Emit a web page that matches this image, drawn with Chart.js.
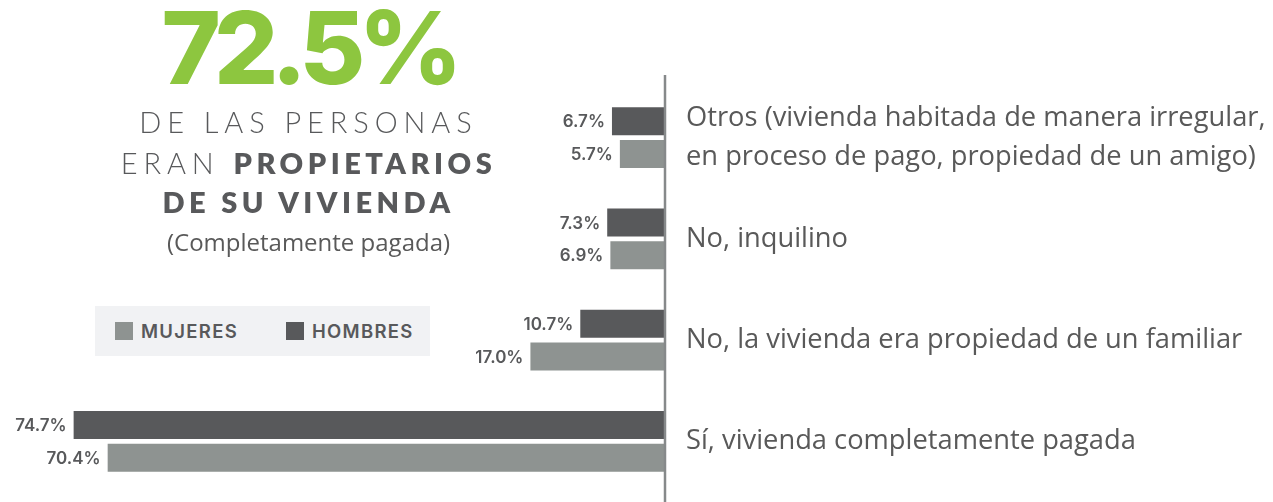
<!DOCTYPE html>
<html>
<head>
<meta charset="utf-8">
<script src="https://cdn.jsdelivr.net/npm/chart.js@4/dist/chart.umd.min.js"></script>
<style>
  html, body { margin:0; padding:0; background:#ffffff; }
  #wrap { position:relative; width:1273px; height:502px; overflow:hidden; }
  #c { position:absolute; left:0; top:0; }
  .t { position:absolute; color:#58595b; white-space:nowrap; text-align:center; }
  #big { left:100px; width:417px; top:-8px; font-family:Inter, sans-serif; font-weight:800; font-size:101px; line-height:110px; color:#8dc63f; letter-spacing:-7px; }
  #l1 { left:100px; width:417px; top:105px; font-family:Lato, sans-serif; font-weight:300; font-size:29px; line-height:34px; letter-spacing:5.9px; }
  #l2 { left:100px; width:417px; top:146px; font-family:Lato, sans-serif; font-weight:300; font-size:29px; line-height:34px; letter-spacing:5.9px; }
  #l2 b, #l3 b { font-weight:800; letter-spacing:4.5px; }
  #l3 { left:100px; width:417px; top:185px; font-family:Lato, sans-serif; font-size:29px; line-height:34px; }
  #l4 { left:100px; width:417px; top:227px; font-family:"Open Sans", sans-serif; font-size:24px; line-height:30px; color:#595959; }
  #legend { position:absolute; left:95px; top:306px; width:335px; height:50px; background:#f1f2f4; }
  .li { position:absolute; top:0; height:50px; display:flex; align-items:center; font-family:Inter, sans-serif; font-weight:600; font-size:18.5px; color:#58595b; letter-spacing:1.3px; }
  .sw { width:18px; height:18px; margin-right:8px; }
</style>
</head>
<body>
<div id="wrap">
  <canvas id="c" width="1273" height="502"></canvas>
  <div class="t" id="big">72.5%</div>
  <div class="t" id="l1">DE LAS PERSONAS</div>
  <div class="t" id="l2">ERAN <b>PROPIETARIOS</b></div>
  <div class="t" id="l3"><b>DE SU VIVIENDA</b></div>
  <div class="t" id="l4">(Completamente pagada)</div>
  <div id="legend"></div>
</div>
<script>
// ---- data ----
const categories = [
  ["Otros (vivienda habitada de manera irregular,", "en proceso de pago, propiedad de un amigo)"],
  "No, inquilino",
  "No, la vivienda era propiedad de un familiar",
  "Sí, vivienda completamente pagada"
];
const hombres = [6.7, 7.3, 10.7, 74.7];
const mujeres = [5.7, 6.9, 17.0, 70.4];
const seriesNames = ["HOMBRES", "MUJERES"];
const seriesColors = ["#58595b", "#8e9391"];
const legendOrder = [1, 0];

// legend (HTML)
const lg = document.getElementById('legend');
const legendX = [20, 191];
legendOrder.forEach((si, k) => {
  const d = document.createElement('div');
  d.className = 'li';
  d.style.left = legendX[k] + 'px';
  const s = document.createElement('span');
  s.className = 'sw';
  s.style.background = seriesColors[si];
  d.appendChild(s);
  d.appendChild(document.createTextNode(seriesNames[si]));
  lg.appendChild(d);
});

const valueLabels = {
  id: 'valueLabels',
  afterDatasetsDraw(chart) {
    const ctx = chart.ctx;
    ctx.save();
    const x0 = chart.scales.x.getPixelForValue(0);
    ctx.strokeStyle = '#86898a';
    ctx.lineWidth = 2.5;
    ctx.beginPath();
    ctx.moveTo(x0, 75);
    ctx.lineTo(x0, 502);
    ctx.stroke();
    ctx.font = '600 17px Inter, sans-serif';
    ctx.fillStyle = '#58595b';
    ctx.textAlign = 'right';
    ctx.textBaseline = 'middle';
    chart.data.datasets.forEach((ds, i) => {
      chart.getDatasetMeta(i).data.forEach((bar, j) => {
        ctx.fillText(ds.data[j].toFixed(1) + '%', bar.x - 7, bar.y + 1);
      });
    });
    ctx.restore();
  }
};

new Chart(document.getElementById('c'), {
  type: 'bar',
  data: {
    labels: categories,
    datasets: [
      { label: seriesNames[0], data: hombres, backgroundColor: seriesColors[0] },
      { label: seriesNames[1], data: mujeres, backgroundColor: seriesColors[1] }
    ]
  },
  options: {
    indexAxis: 'y',
    responsive: false,
    animation: false,
    devicePixelRatio: 1,
    categoryPercentage: 0.644,
    barPercentage: 0.86,
    layout: { padding: { top: 87, bottom: 10, left: 0, right: 0 } },
    plugins: { legend: { display: false }, tooltip: { enabled: false } },
    scales: {
      x: { type: 'linear', reverse: true, min: 0, max: 84, display: false },
      y: {
        position: 'right',
        grid: { display: false, drawTicks: false },
        border: { display: false },
        ticks: {
          padding: 21,
          color: '#595959',
          font: { family: '"Open Sans", sans-serif', size: 27.3, lineHeight: 1.42 }
        },
        afterFit(scale) {
          scale.width = 608;
          scale.paddingTop = 0;
          scale.paddingBottom = 0;
        }
      }
    }
  },
  plugins: [valueLabels]
});
</script>
</body>
</html>
